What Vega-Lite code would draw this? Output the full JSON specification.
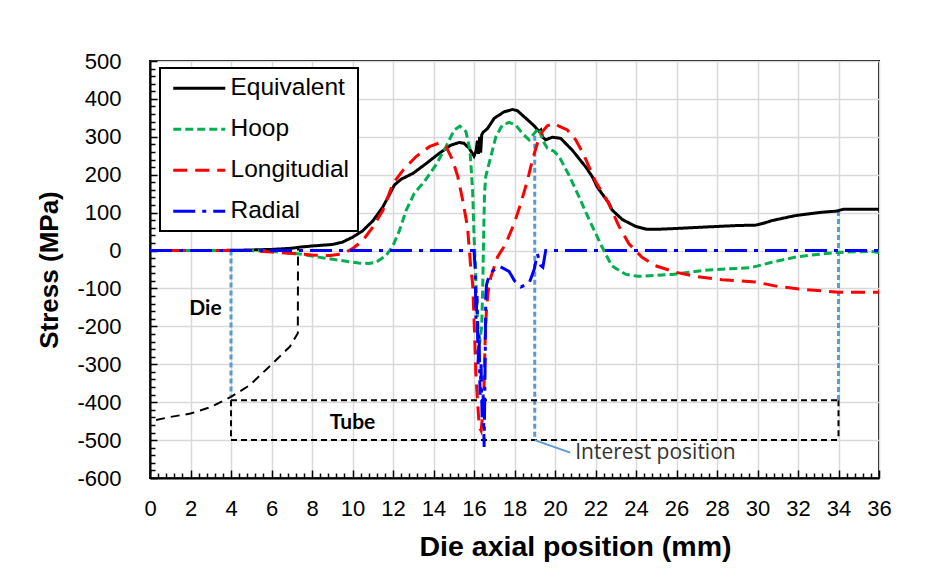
{
  "$schema": "https://vega.github.io/schema/vega-lite/v6.json",
  "width": 729,
  "height": 417,
  "autosize": {"type": "none"},
  "padding": {"left": 150, "top": 61, "right": 62, "bottom": 107},
  "background": "white",
  "datasets": {
    "stress": [
      {"c":"Equivalent","x":0,"y":0},{"c":"Equivalent","x":2,"y":0},{"c":"Equivalent","x":4,"y":0.5},{"c":"Equivalent","x":5,"y":1.5},{"c":"Equivalent","x":6,"y":3},{"c":"Equivalent","x":7,"y":6},{"c":"Equivalent","x":7.4,"y":9},{"c":"Equivalent","x":8,"y":12},{"c":"Equivalent","x":9,"y":16},{"c":"Equivalent","x":9.5,"y":22},{"c":"Equivalent","x":10,"y":35},{"c":"Equivalent","x":10.5,"y":52},{"c":"Equivalent","x":11,"y":78},{"c":"Equivalent","x":11.5,"y":115},{"c":"Equivalent","x":11.8,"y":145},{"c":"Equivalent","x":12.07,"y":173},{"c":"Equivalent","x":12.4,"y":188},{"c":"Equivalent","x":13,"y":204},{"c":"Equivalent","x":13.6,"y":228},{"c":"Equivalent","x":14.3,"y":257},{"c":"Equivalent","x":14.86,"y":278},{"c":"Equivalent","x":15.27,"y":285},{"c":"Equivalent","x":15.5,"y":283},{"c":"Equivalent","x":15.76,"y":270},{"c":"Equivalent","x":16.0,"y":249},{"c":"Equivalent","x":16.1,"y":262},{"c":"Equivalent","x":16.17,"y":290},{"c":"Equivalent","x":16.22,"y":255},{"c":"Equivalent","x":16.28,"y":300},{"c":"Equivalent","x":16.33,"y":258},{"c":"Equivalent","x":16.38,"y":305},{"c":"Equivalent","x":16.45,"y":312},{"c":"Equivalent","x":16.67,"y":322},{"c":"Equivalent","x":17.0,"y":349},{"c":"Equivalent","x":17.49,"y":366},{"c":"Equivalent","x":17.9,"y":372},{"c":"Equivalent","x":18.14,"y":369},{"c":"Equivalent","x":18.56,"y":349},{"c":"Equivalent","x":18.97,"y":329},{"c":"Equivalent","x":19.21,"y":314},{"c":"Equivalent","x":19.3,"y":318},{"c":"Equivalent","x":19.38,"y":300},{"c":"Equivalent","x":19.54,"y":292},{"c":"Equivalent","x":19.87,"y":299},{"c":"Equivalent","x":20.28,"y":296},{"c":"Equivalent","x":20.85,"y":265},{"c":"Equivalent","x":21.51,"y":221},{"c":"Equivalent","x":21.84,"y":195},{"c":"Equivalent","x":22.08,"y":168},{"c":"Equivalent","x":22.66,"y":125},{"c":"Equivalent","x":22.82,"y":107},{"c":"Equivalent","x":23.32,"y":82},{"c":"Equivalent","x":23.97,"y":64},{"c":"Equivalent","x":24.55,"y":56},{"c":"Equivalent","x":25.0,"y":56},{"c":"Equivalent","x":25.9,"y":58},{"c":"Equivalent","x":27.4,"y":62},{"c":"Equivalent","x":29.0,"y":66},{"c":"Equivalent","x":29.9,"y":67},{"c":"Equivalent","x":30.3,"y":72},{"c":"Equivalent","x":30.71,"y":79},{"c":"Equivalent","x":31.85,"y":92},{"c":"Equivalent","x":33.17,"y":101},{"c":"Equivalent","x":33.9,"y":104},{"c":"Equivalent","x":34.24,"y":109},{"c":"Equivalent","x":36,"y":109},
      {"c":"Hoop","x":0,"y":0},{"c":"Hoop","x":5,"y":0},{"c":"Hoop","x":6,"y":-2},{"c":"Hoop","x":7.4,"y":-9},{"c":"Hoop","x":8.4,"y":-18},{"c":"Hoop","x":9.4,"y":-26},{"c":"Hoop","x":10.3,"y":-33},{"c":"Hoop","x":10.8,"y":-34},{"c":"Hoop","x":11.17,"y":-31},{"c":"Hoop","x":11.66,"y":-13},{"c":"Hoop","x":12.0,"y":13},{"c":"Hoop","x":12.32,"y":53},{"c":"Hoop","x":12.65,"y":106},{"c":"Hoop","x":13.05,"y":151},{"c":"Hoop","x":13.55,"y":182},{"c":"Hoop","x":14.12,"y":226},{"c":"Hoop","x":14.62,"y":274},{"c":"Hoop","x":15.02,"y":318},{"c":"Hoop","x":15.3,"y":328},{"c":"Hoop","x":15.6,"y":314},{"c":"Hoop","x":15.8,"y":265},{"c":"Hoop","x":15.93,"y":160},{"c":"Hoop","x":16.01,"y":28},{"c":"Hoop","x":16.09,"y":-69},{"c":"Hoop","x":16.15,"y":-160},{"c":"Hoop","x":16.22,"y":-225},{"c":"Hoop","x":16.3,"y":-235},{"c":"Hoop","x":16.38,"y":-200},{"c":"Hoop","x":16.43,"y":-100},{"c":"Hoop","x":16.48,"y":50},{"c":"Hoop","x":16.52,"y":150},{"c":"Hoop","x":16.58,"y":195},{"c":"Hoop","x":16.83,"y":248},{"c":"Hoop","x":17.08,"y":300},{"c":"Hoop","x":17.4,"y":331},{"c":"Hoop","x":17.73,"y":338},{"c":"Hoop","x":18.06,"y":331},{"c":"Hoop","x":18.39,"y":309},{"c":"Hoop","x":18.72,"y":292},{"c":"Hoop","x":19.05,"y":314},{"c":"Hoop","x":19.21,"y":322},{"c":"Hoop","x":19.38,"y":292},{"c":"Hoop","x":19.62,"y":270},{"c":"Hoop","x":19.95,"y":262},{"c":"Hoop","x":20.2,"y":248},{"c":"Hoop","x":20.7,"y":198},{"c":"Hoop","x":21.2,"y":140},{"c":"Hoop","x":21.7,"y":80},{"c":"Hoop","x":22.3,"y":12},{"c":"Hoop","x":22.8,"y":-40},{"c":"Hoop","x":23.5,"y":-63},{"c":"Hoop","x":24.1,"y":-68},{"c":"Hoop","x":25.8,"y":-63},{"c":"Hoop","x":27.4,"y":-52},{"c":"Hoop","x":29.7,"y":-45},{"c":"Hoop","x":30.7,"y":-31},{"c":"Hoop","x":32,"y":-16},{"c":"Hoop","x":33.9,"y":-5},{"c":"Hoop","x":35.6,"y":-2},{"c":"Hoop","x":36,"y":-5},
      {"c":"Longitudial","x":0,"y":0},{"c":"Longitudial","x":5,"y":0},{"c":"Longitudial","x":6,"y":-4},{"c":"Longitudial","x":7.4,"y":-9},{"c":"Longitudial","x":8,"y":-12},{"c":"Longitudial","x":8.9,"y":-13},{"c":"Longitudial","x":9.5,"y":-9},{"c":"Longitudial","x":10.0,"y":5},{"c":"Longitudial","x":10.5,"y":26},{"c":"Longitudial","x":11.0,"y":62},{"c":"Longitudial","x":11.5,"y":106},{"c":"Longitudial","x":12.0,"y":177},{"c":"Longitudial","x":12.5,"y":212},{"c":"Longitudial","x":13.14,"y":248},{"c":"Longitudial","x":13.8,"y":274},{"c":"Longitudial","x":14.29,"y":284},{"c":"Longitudial","x":14.62,"y":274},{"c":"Longitudial","x":14.94,"y":239},{"c":"Longitudial","x":15.2,"y":195},{"c":"Longitudial","x":15.44,"y":133},{"c":"Longitudial","x":15.68,"y":62},{"c":"Longitudial","x":15.85,"y":-52},{"c":"Longitudial","x":15.93,"y":-86},{"c":"Longitudial","x":16.01,"y":-192},{"c":"Longitudial","x":16.09,"y":-324},{"c":"Longitudial","x":16.17,"y":-394},{"c":"Longitudial","x":16.26,"y":-465},{"c":"Longitudial","x":16.35,"y":-475},{"c":"Longitudial","x":16.45,"y":-420},{"c":"Longitudial","x":16.5,"y":-350},{"c":"Longitudial","x":16.55,"y":-236},{"c":"Longitudial","x":16.62,"y":-150},{"c":"Longitudial","x":16.72,"y":-100},{"c":"Longitudial","x":16.83,"y":-70},{"c":"Longitudial","x":17.16,"y":-17},{"c":"Longitudial","x":17.57,"y":18},{"c":"Longitudial","x":17.98,"y":71},{"c":"Longitudial","x":18.31,"y":124},{"c":"Longitudial","x":18.64,"y":185},{"c":"Longitudial","x":18.88,"y":238},{"c":"Longitudial","x":19.13,"y":283},{"c":"Longitudial","x":19.38,"y":314},{"c":"Longitudial","x":19.62,"y":329},{"c":"Longitudial","x":19.95,"y":336},{"c":"Longitudial","x":20.2,"y":328},{"c":"Longitudial","x":20.61,"y":318},{"c":"Longitudial","x":21.02,"y":292},{"c":"Longitudial","x":21.4,"y":255},{"c":"Longitudial","x":22.0,"y":182},{"c":"Longitudial","x":22.6,"y":130},{"c":"Longitudial","x":23.15,"y":65},{"c":"Longitudial","x":23.65,"y":18},{"c":"Longitudial","x":24.3,"y":-18},{"c":"Longitudial","x":24.96,"y":-40},{"c":"Longitudial","x":25.94,"y":-57},{"c":"Longitudial","x":26.93,"y":-68},{"c":"Longitudial","x":28.24,"y":-77},{"c":"Longitudial","x":29.89,"y":-83},{"c":"Longitudial","x":31.03,"y":-95},{"c":"Longitudial","x":32.35,"y":-103},{"c":"Longitudial","x":34,"y":-110},{"c":"Longitudial","x":36,"y":-110},
      {"c":"Radial","x":0,"y":0},{"c":"Radial","x":16.0,"y":0},{"c":"Radial","x":16.05,"y":-40},{"c":"Radial","x":16.1,"y":-180},{"c":"Radial","x":16.15,"y":-120},{"c":"Radial","x":16.2,"y":-300},{"c":"Radial","x":16.25,"y":-220},{"c":"Radial","x":16.3,"y":-380},{"c":"Radial","x":16.35,"y":-300},{"c":"Radial","x":16.4,"y":-440},{"c":"Radial","x":16.45,"y":-380},{"c":"Radial","x":16.5,"y":-518},{"c":"Radial","x":16.55,"y":-300},{"c":"Radial","x":16.58,"y":-120},{"c":"Radial","x":16.62,"y":-90},{"c":"Radial","x":16.7,"y":-75},{"c":"Radial","x":16.9,"y":-55},{"c":"Radial","x":17.24,"y":-41},{"c":"Radial","x":17.73,"y":-55},{"c":"Radial","x":18.0,"y":-80},{"c":"Radial","x":18.31,"y":-96},{"c":"Radial","x":18.72,"y":-87},{"c":"Radial","x":18.97,"y":-50},{"c":"Radial","x":19.13,"y":-9},{"c":"Radial","x":19.3,"y":-40},{"c":"Radial","x":19.4,"y":-44},{"c":"Radial","x":19.54,"y":0},{"c":"Radial","x":19.7,"y":0},{"c":"Radial","x":36,"y":0}
    ],
    "die": [
      {"x":0.3,"y":-447},{"x":1,"y":-439},{"x":2,"y":-430},{"x":3,"y":-413},{"x":4,"y":-386},{"x":4.93,"y":-355},{"x":6.07,"y":-297},{"x":6.9,"y":-254},{"x":7.3,"y":-218},{"x":7.31,"y":8}
    ],
    "tube": [
      {"x":4,"y":-395,"x2":34,"y2":-395},{"x":4,"y":-500,"x2":34,"y2":-500},{"x":4,"y":-395,"x2":4,"y2":-500},{"x":34,"y":-395,"x2":34,"y2":-500}
    ],
    "marks": [
      {"x":4,"y":0,"x2":4,"y2":-386},{"x":19,"y":303,"x2":19,"y2":-500},{"x":34,"y":104,"x2":34,"y2":-395}
    ],
    "leader": [
      {"x":19,"y":-500,"x2":20.75,"y2":-533}
    ],
    "boldnotes": [
      {"t":"Die","x":2.74,"y":-153},{"t":"Tube","x":10.0,"y":-454}
    ],
    "notes": [
      {"t":"Interest position","x":21.0,"y":-535}
    ]
  },
  "encoding": {
    "x": {
      "field": "x", "type": "quantitative",
      "scale": {"domain": [0, 36], "nice": false, "zero": false},
      "axis": {
        "title": "Die axial position (mm)",
        "values": [0,0.4,0.8,1.2,1.6,2,2.4,2.8,3.2,3.6,4,4.4,4.8,5.2,5.6,6,6.4,6.8,7.2,7.6,8,8.4,8.8,9.2,9.6,10,10.4,10.8,11.2,11.6,12,12.4,12.8,13.2,13.6,14,14.4,14.8,15.2,15.6,16,16.4,16.8,17.2,17.6,18,18.4,18.8,19.2,19.6,20,20.4,20.8,21.2,21.6,22,22.4,22.8,23.2,23.6,24,24.4,24.8,25.2,25.6,26,26.4,26.8,27.2,27.6,28,28.4,28.8,29.2,29.6,30,30.4,30.8,31.2,31.6,32,32.4,32.8,33.2,33.6,34,34.4,34.8,35.2,35.6,36],
        "labelExpr": "abs(datum.value - round(datum.value/2)*2) < 0.01 ? '' + round(datum.value) : ''",
        "gridOpacity": {"condition": {"test": "abs(datum.value - round(datum.value/2)*2) < 0.01", "value": 1}, "value": 0},
        "tickSize": {"condition": {"test": "abs(datum.value - round(datum.value/2)*2) < 0.01", "value": -8}, "value": -5},
        "labelPadding": 28,
        "labelFlush": false,
        "labelOverlap": false,
        "titleFontSize": 28.5,
        "titleX": 425,
        "titleY": 68,
        "titleBaseline": "middle",
        "titleAlign": "center"
      }
    },
    "y": {
      "field": "y", "type": "quantitative",
      "scale": {"domain": [-600, 500], "nice": false, "zero": false},
      "axis": {
        "title": "Stress (MPa)",
        "values": [-600,-580,-560,-540,-520,-500,-480,-460,-440,-420,-400,-380,-360,-340,-320,-300,-280,-260,-240,-220,-200,-180,-160,-140,-120,-100,-80,-60,-40,-20,0,20,40,60,80,100,120,140,160,180,200,220,240,260,280,300,320,340,360,380,400,420,440,460,480,500],
        "labelExpr": "datum.value % 100 === 0 ? '' + datum.value : ''",
        "gridOpacity": {"condition": {"test": "datum.value % 100 === 0", "value": 1}, "value": 0},
        "tickSize": {"condition": {"test": "datum.value % 100 === 0", "value": -7}, "value": -5},
        "labelPadding": 36,
        "labelOverlap": false,
        "labelFlush": false,
        "titleFontSize": 26,
        "titleX": -88
      }
    }
  },
  "layer": [
    {
      "data": {"name": "marks"},
      "mark": {"type": "rule", "color": "#5B9BD5", "strokeWidth": 3, "strokeDash": [5, 3]},
      "encoding": {"x2": {"field": "x2"}, "y2": {"field": "y2"}}
    },
    {
      "data": {"name": "tube"},
      "mark": {"type": "rule", "color": "black", "strokeWidth": 2, "strokeDash": [6, 4]},
      "encoding": {"x2": {"field": "x2"}, "y2": {"field": "y2"}}
    },
    {
      "data": {"name": "die"},
      "mark": {"type": "line", "color": "black", "strokeWidth": 2, "strokeDash": [9, 6]},
      "encoding": {}
    },
    {
      "data": {"name": "leader"},
      "mark": {"type": "rule", "color": "#5B9BD5", "strokeWidth": 2},
      "encoding": {"x2": {"field": "x2"}, "y2": {"field": "y2"}}
    },
    {
      "data": {"name": "stress"},
      "mark": {"type": "line", "strokeWidth": 3},
      "encoding": {
        "color": {
          "field": "c", "type": "nominal",
          "scale": {"domain": ["Equivalent", "Hoop", "Longitudial", "Radial"], "range": ["#000000", "#00B050", "#FF0000", "#0000FF"]},
          "legend": {
            "orient": "none", "legendX": 10, "legendY": 7, "title": null,
            "symbolType": "M-2.6,0H2.6", "symbolSize": 400, "symbolStrokeWidth": 3,
            "symbolOffset": 19, "labelOffset": 19, "padding": 8, "rowPadding": 16,
            "strokeColor": "black", "fillColor": "white",
            "labelFont": "Liberation Sans", "labelFontSize": 24.5, "labelColor": "black", "labelLimit": 300
          }
        },
        "strokeDash": {
          "field": "c", "type": "nominal",
          "scale": {"domain": ["Equivalent", "Hoop", "Longitudial", "Radial"], "range": [[1, 0], [8, 4], [14, 8], [22, 7, 4, 7]]}
        }
      }
    },
    {
      "data": {"name": "boldnotes"},
      "mark": {"type": "text", "font": "Lato", "fontWeight": "bold", "fontSize": 21, "color": "black", "align": "center", "baseline": "middle"},
      "encoding": {"text": {"field": "t"}}
    },
    {
      "data": {"name": "notes"},
      "mark": {"type": "text", "font": "Open Sans", "fontSize": 21, "color": "#333333", "align": "left", "baseline": "middle"},
      "encoding": {"text": {"field": "t"}}
    }
  ],
  "config": {
    "view": {"stroke": "black", "strokeWidth": 2},
    "axis": {
      "domainColor": "black", "domainWidth": 2,
      "tickColor": "black", "tickWidth": 1.5,
      "gridColor": "#d9d9d9", "gridWidth": 1.5,
      "labelFont": "Liberation Sans", "labelFontSize": 22, "labelColor": "black",
      "titleFont": "Liberation Sans", "titleFontWeight": "bold", "titleColor": "black"
    },
    "legend": {"strokeWidth": 2}
  }
}
